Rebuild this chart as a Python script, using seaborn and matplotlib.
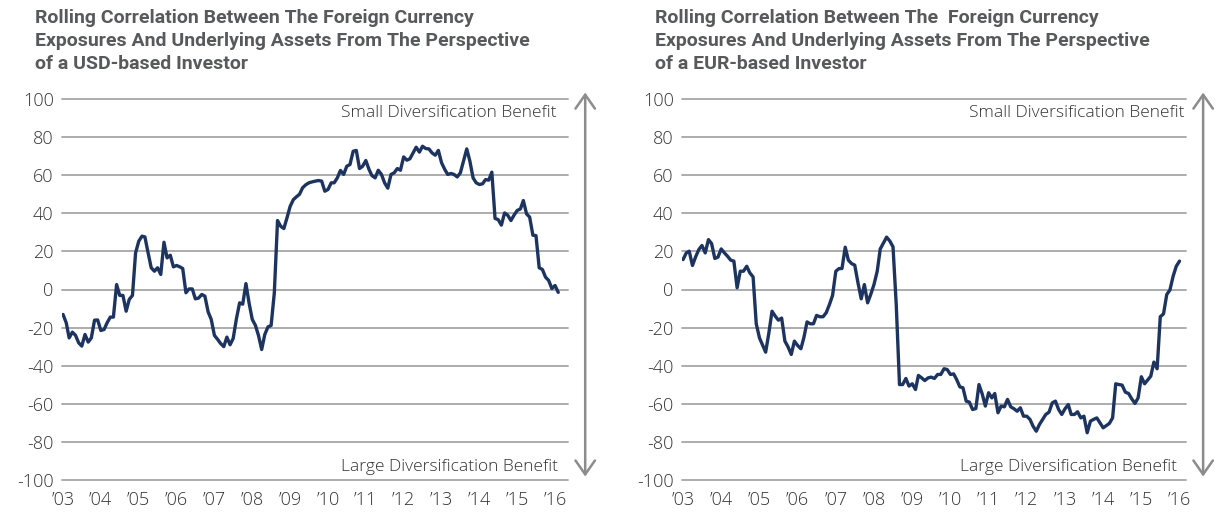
import numpy as np
import pandas as pd
import matplotlib
matplotlib.use("Agg")
import matplotlib.pyplot as plt
import seaborn as sns

# ---------------- data (monthly, from Jan 2003) ----------------
usd_values = [
    -13.1, -17.5, -25.4, -22.4, -24.0, -28.0, -29.7, -23.6, -27.6, -25.4,
    -16.1, -16.0, -21.5, -21.0, -17.5, -14.5, -14.5, 2.6, -3.1, -3.1,
    -11.4, -5.2, -3.1, 19.2, 25.4, 28.0, 27.6, 19.2, 11.4, 9.6,
    11.4, 7.9, 24.8, 16.6, 18.0, 11.9, 12.6, 11.9, 11.0, -1.7,
    0.3, 0.3, -4.9, -4.5, -2.6, -3.5, -11.7, -15.7, -24.1, -26.2,
    -28.3, -30.0, -25.0, -29.0, -25.7, -15.4, -7.0, -7.7, 3.1, -7.0,
    -15.7, -18.9, -24.1, -31.5, -23.6, -19.6, -18.9, -1.7, 36.2, 33.2,
    32.0, 37.6, 43.7, 47.2, 48.6, 50.0, 53.4, 55.0, 56.0, 56.5,
    56.9, 57.2, 56.9, 51.6, 52.5, 56.0, 56.0, 58.6, 62.5, 60.4,
    64.7, 65.6, 72.6, 73.0, 63.5, 64.7, 67.7, 63.0, 59.8, 58.6,
    62.6, 60.4, 56.0, 53.2, 60.4, 61.2, 63.5, 62.6, 69.6, 67.9,
    68.6, 71.7, 74.7, 72.1, 75.2, 74.0, 73.8, 71.7, 70.5, 73.0,
    66.5, 63.0, 60.4, 60.9, 60.4, 59.1, 61.2, 67.4, 73.8, 67.4,
    58.6, 56.0, 55.1, 55.5, 57.7, 57.4, 61.6, 37.3, 36.7, 33.8,
    40.2, 39.0, 36.2, 39.0, 41.5, 42.3, 46.7, 39.7, 38.0, 28.5,
    28.3, 11.4, 10.5, 6.5, 4.7, 0.5, 2.1, -1.5,
]

eur_values = [
    15.7, 19.2, 20.1, 12.6, 17.1, 21.0, 23.1, 19.2, 26.2, 24.1,
    16.3, 17.0, 21.3, 19.2, 17.5, 15.4, 14.9, 0.9, 9.6, 9.6,
    12.2, 8.7, 6.6, -18.0, -25.4, -29.4, -32.9, -22.7, -11.4, -14.0,
    -16.1, -15.0, -27.1, -30.1, -34.1, -27.1, -29.4, -31.1, -25.4, -17.0,
    -18.0, -18.0, -13.6, -14.3, -14.3, -12.2, -7.9, -3.1, 9.6, 11.0,
    11.0, 22.2, 15.4, 13.6, 12.8, 3.5, -4.9, 2.6, -7.0, -2.6,
    2.6, 9.6, 21.3, 24.5, 27.5, 25.4, 22.4, -8.0, -49.9, -49.9,
    -46.7, -50.7, -49.5, -52.5, -45.1, -46.4, -47.8, -46.4, -46.0, -46.7,
    -44.6, -44.6, -41.6, -42.0, -44.6, -44.3, -47.2, -51.1, -51.6, -58.6,
    -59.1, -63.0, -62.5, -49.9, -54.8, -61.2, -54.2, -56.9, -54.6, -64.7,
    -61.2, -61.6, -57.7, -61.6, -62.6, -63.9, -62.1, -66.5, -66.5, -68.2,
    -71.7, -74.4, -70.9, -68.2, -65.6, -64.4, -59.5, -58.6, -63.0, -65.6,
    -62.6, -60.4, -65.6, -65.6, -64.2, -67.4, -66.5, -75.2, -69.1, -68.2,
    -67.4, -70.0, -72.6, -71.4, -70.3, -67.4, -49.5, -49.9, -50.2, -53.9,
    -54.6, -57.4, -59.8, -56.9, -45.8, -49.5, -47.6, -45.5, -38.1, -41.6,
    -14.3, -12.8, -2.6, -0.3, 7.0, 12.2, 14.9,
]

tick_years = list(range(2003, 2017))
tick_labels = ["\u2019" + str(y)[2:] for y in tick_years]
y_ticks = list(range(-100, 101, 20))

titles = [
    "Rolling Correlation Between The Foreign Currency\nExposures And Underlying Assets From The Perspective\nof a USD-based Investor",
    "Rolling Correlation Between The  Foreign Currency\nExposures And Underlying Assets From The Perspective\nof a EUR-based Investor",
]
top_note = "Small Diversification Benefit"
bottom_note = "Large Diversification Benefit"

df_usd = pd.DataFrame({"date": pd.date_range("2003-01-01", periods=len(usd_values), freq="MS"),
                       "corr": usd_values})
df_eur = pd.DataFrame({"date": pd.date_range("2003-01-01", periods=len(eur_values), freq="MS"),
                       "corr": eur_values})

# ---------------- style ----------------
sns.set_theme(style="white")
plt.rcParams["font.family"] = ["Open Sans", "DejaVu Sans"]

LINE = "#1d3461"
GRID = "#a6a6a6"
TXT = "#333333"
ARROW = "#8c8c8c"
TITLE_C = "#58595b"

fig = plt.figure(figsize=(12.18, 5.12), dpi=100)
W, H = 1218, 512
ax1 = fig.add_axes([62 / W, 32 / H, 506 / W, 381 / H])
ax2 = fig.add_axes([682 / W, 32 / H, 504 / W, 381 / H])

panels = [
    (ax1, df_usd, pd.Timestamp("2002-12-22"), pd.Timestamp("2016-05-05"), 0.978, 0.980, 35, titles[0]),
    (ax2, df_eur, pd.Timestamp("2002-12-22"), pd.Timestamp("2016-03-03"), 0.998, 0.982, 655, titles[1]),
]

for ax, df, x0, x1, small_x, large_x, title_x, title in panels:
    ax.set_ylim(-100, 100)
    ax.set_xlim(x0, x1)
    ax.set_yticks(y_ticks)
    ax.set_yticklabels([str(v) for v in y_ticks])
    ax.set_xticks([pd.Timestamp(f"{y}-01-01") for y in tick_years])
    ax.set_xticklabels(tick_labels)
    for v in y_ticks:
        ax.axhline(v, color=GRID, lw=1.3, zorder=1, clip_on=False)
    sns.lineplot(data=df, x="date", y="corr", ax=ax, color=LINE, lw=2.4, zorder=3)
    ax.set_xlabel("")
    ax.set_ylabel("")
    for s in ax.spines.values():
        s.set_visible(False)
    ax.grid(False)
    ax.tick_params(axis="both", length=0, labelsize=13, labelcolor=TXT)
    ax.tick_params(axis="y", pad=6)
    ax.tick_params(axis="x", pad=8)
    for lab in ax.get_xticklabels() + ax.get_yticklabels():
        lab.set_fontweight("light")
    tr = ax.get_yaxis_transform()
    ax.text(small_x, 92.4, top_note, transform=tr, ha="right", va="center",
            fontsize=12.5, color=TXT, fontweight="light")
    ax.text(large_x, -93.4, bottom_note, transform=tr, ha="right", va="center",
            fontsize=12.5, color=TXT, fontweight="light")
    ax.annotate("", xy=(1.034, 103.4), xytext=(1.034, -98.2), xycoords=tr, textcoords=tr,
                arrowprops=dict(arrowstyle="<->,head_length=0.5,head_width=0.35",
                                color=ARROW, lw=1.8, mutation_scale=20,
                                shrinkA=0, shrinkB=0),
                annotation_clip=False)
    fig.text(title_x / W, 1 - 9 / H, title, ha="left", va="top", fontsize=14,
             fontweight="bold", color=TITLE_C, linespacing=1.36,
             family=["Roboto", "Open Sans", "DejaVu Sans"])

fig.savefig("out.png", dpi=100)
